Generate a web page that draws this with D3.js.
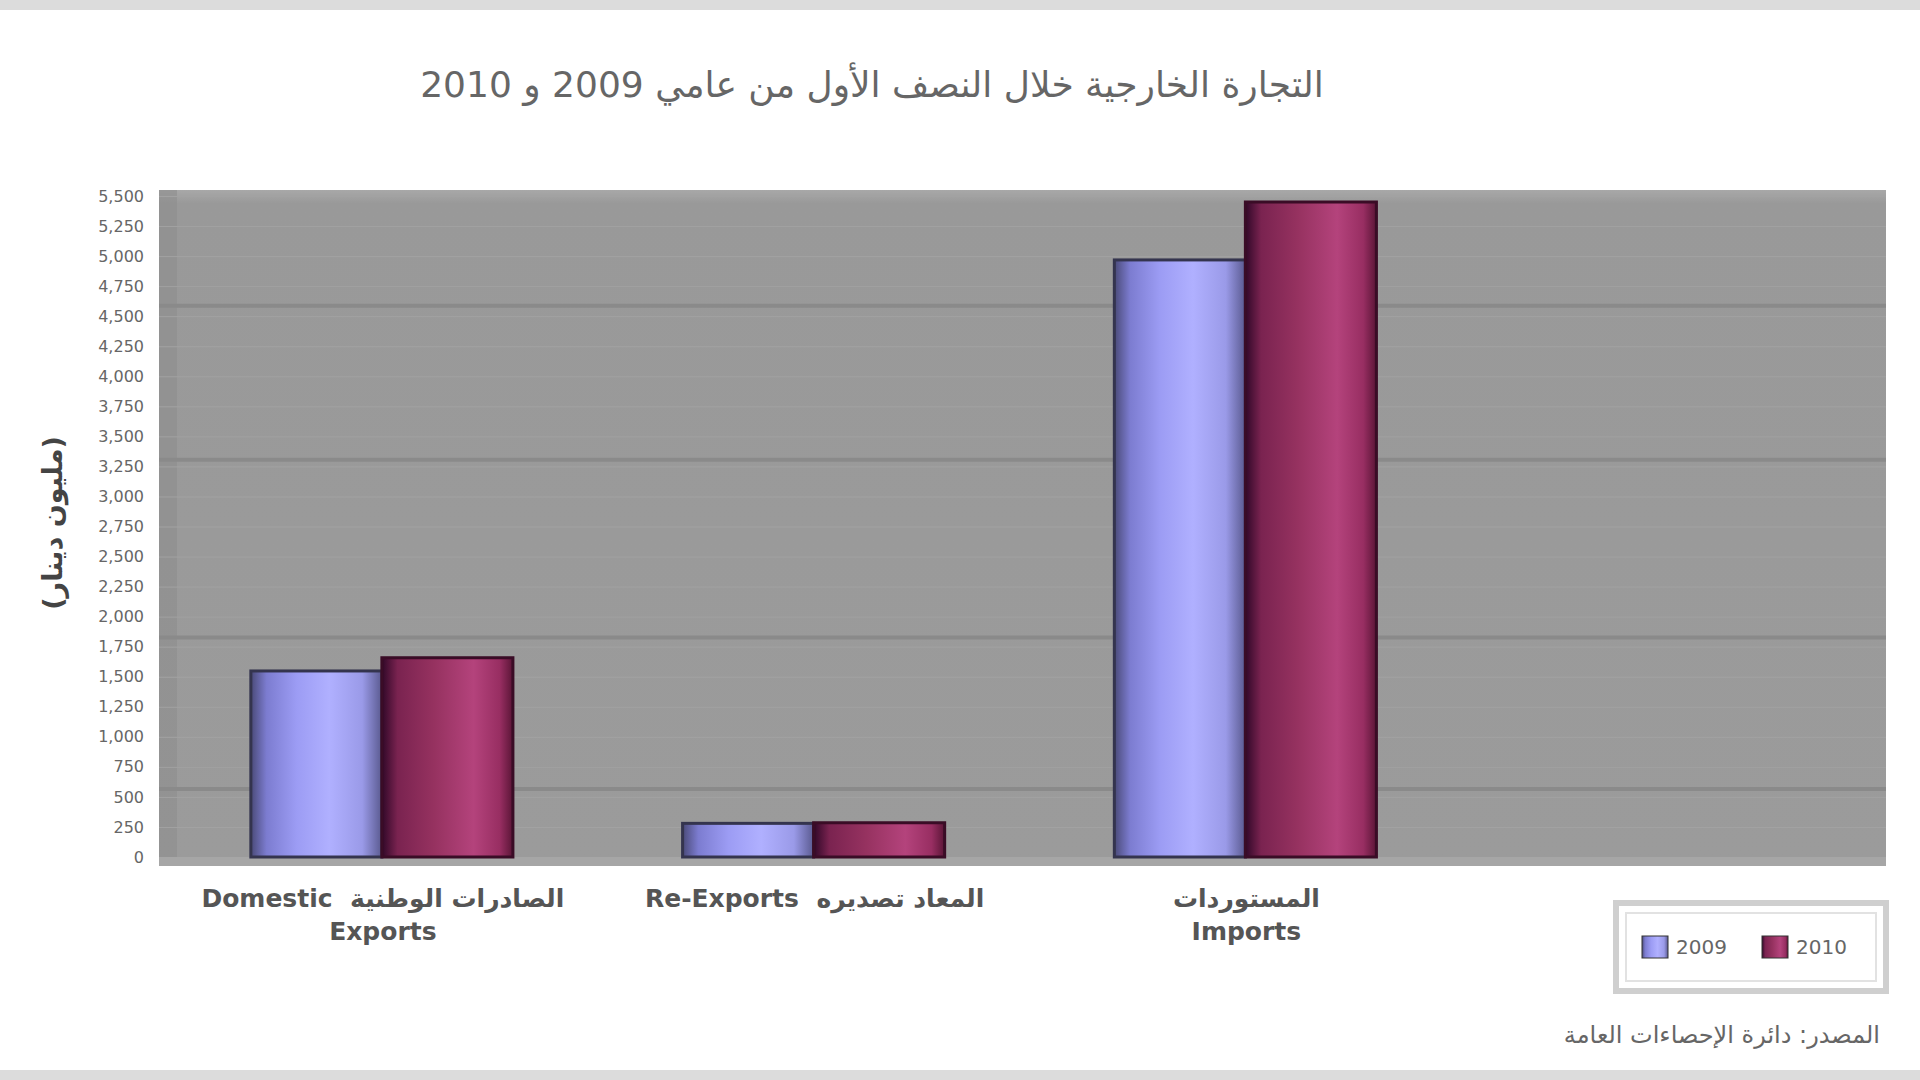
<!DOCTYPE html>
<html lang="ar">
<head>
<meta charset="utf-8">
<script src="https://cdn.jsdelivr.net/npm/d3@7/dist/d3.min.js"></script>
<style>
  html, body { margin: 0; padding: 0; background: #ffffff; }
  svg { display: block; font-family: "DejaVu Sans", "Noto Sans", sans-serif; }
</style>
</head>
<body>
<svg id="chart" width="1920" height="1080"></svg>
<script>
// ---------- data ----------
const categories = ["Domestic Exports", "Re-Exports", "Imports"];
const categoryLabelLines = [
  ["Domestic  الصادرات الوطنية", "Exports"],
  ["Re-Exports  المعاد تصديره"],
  ["المستوردات", "Imports"]
];
const seriesNames = ["2009", "2010"];
const values2009 = [1548, 280, 4968];
const values2010 = [1658, 285, 5450];
const yTicks = [0, 250, 500, 750, 1000, 1250, 1500, 1750, 2000, 2250, 2500, 2750,
                3000, 3250, 3500, 3750, 4000, 4250, 4500, 4750, 5000, 5250, 5500];
const majorGrid = [570, 1830, 3310, 4590];
const titleText = "التجارة الخارجية خلال النصف الأول من عامي 2009 و 2010";
const yAxisTitle = "(مليون دينار)";
const sourceText = "المصدر: دائرة الإحصاءات العامة";

// ---------- layout ----------
const svg = d3.select("#chart");
const W = 1920, H = 1080;
const plot = { left: 159, right: 1886, top: 190, bottom: 866 };
const baseY = 857;

// bands
svg.append("rect").attr("x", 0).attr("y", 0).attr("width", W).attr("height", 10).attr("fill", "#dcdcdc");
svg.append("rect").attr("x", 0).attr("y", H - 10).attr("width", W).attr("height", 10).attr("fill", "#dcdcdc");

// title
svg.append("text")
  .attr("x", 872).attr("y", 97)
  .attr("text-anchor", "middle")
  .attr("direction", "rtl")
  .attr("font-size", 36)
  .attr("fill", "#666")
  .text(titleText);

// gradients
const defs = svg.append("defs");
const g09 = defs.append("linearGradient").attr("id", "g2009").attr("x1", "0").attr("x2", "1").attr("y1", "0").attr("y2", "0");
[[0, "#4a4a78"], [0.12, "#7c7cd0"], [0.35, "#9c9cf4"], [0.6, "#b0b0ff"], [0.85, "#9a9ae8"], [1, "#5a5a90"]]
  .forEach(([o, c]) => g09.append("stop").attr("offset", o).attr("stop-color", c));
const g10 = defs.append("linearGradient").attr("id", "g2010").attr("x1", "0").attr("x2", "1").attr("y1", "0").attr("y2", "0");
[[0, "#300828"], [0.12, "#7a2350"], [0.4, "#963260"], [0.7, "#b4437c"], [0.9, "#982e62"], [1, "#5a1536"]]
  .forEach(([o, c]) => g10.append("stop").attr("offset", o).attr("stop-color", c));
const wallG = defs.append("linearGradient").attr("id", "wall").attr("x1", "0").attr("x2", "0").attr("y1", "0").attr("y2", "1");
[[0, "#a8a8a8"], [0.02, "#999999"], [1, "#9b9b9b"]]
  .forEach(([o, c]) => wallG.append("stop").attr("offset", o).attr("stop-color", c));

// plot background
svg.append("rect")
  .attr("x", plot.left).attr("y", plot.top)
  .attr("width", plot.right - plot.left).attr("height", plot.bottom - plot.top)
  .attr("fill", "url(#wall)");
svg.append("rect")
  .attr("x", plot.left).attr("y", plot.top)
  .attr("width", 18).attr("height", plot.bottom - plot.top)
  .attr("fill", "#8e8e8e").attr("opacity", 0.6);
svg.append("rect")
  .attr("x", plot.left).attr("y", baseY)
  .attr("width", plot.right - plot.left).attr("height", plot.bottom - baseY)
  .attr("fill", "#a6a6a6");

// scales
const y = d3.scaleLinear().domain([0, 5500]).range([baseY, 196]);
const x = d3.scaleBand()
  .domain(categories.concat(["_empty"]))
  .range([166, 1893])
  .paddingInner(0.393).paddingOuter(0.1965);
const xs = d3.scaleBand().domain(seriesNames).range([0, x.bandwidth()]).padding(0);

// minor gridlines
svg.append("g")
  .attr("transform", `translate(${plot.left},0)`)
  .call(d3.axisLeft(y).tickValues(yTicks.slice(1)).tickSize(-(plot.right - plot.left)).tickFormat(""))
  .call(g => g.select(".domain").remove())
  .call(g => g.selectAll("line").attr("stroke", "#a2a2a2").attr("stroke-width", 1));
// major gridlines
svg.append("g")
  .attr("transform", `translate(${plot.left},0)`)
  .call(d3.axisLeft(y).tickValues(majorGrid).tickSize(-(plot.right - plot.left)).tickFormat(""))
  .call(g => g.select(".domain").remove())
  .call(g => g.selectAll("line").attr("stroke", "#8a8a8a").attr("stroke-width", 4));

// y axis labels
svg.append("g")
  .attr("transform", `translate(146,0)`)
  .call(d3.axisLeft(y).tickValues(yTicks).tickSize(0).tickPadding(2).tickFormat(d3.format(",")))
  .call(g => g.select(".domain").remove())
  .call(g => g.selectAll("text").attr("font-size", 16).attr("fill", "#666").attr("font-family", "DejaVu Sans, sans-serif"));

// y axis title
svg.append("text")
  .attr("transform", "translate(53,523) rotate(-90)")
  .attr("dy", "0.35em")
  .attr("text-anchor", "middle")
  .attr("direction", "rtl")
  .attr("font-size", 27)
  .attr("font-weight", "bold")
  .attr("fill", "#444")
  .text(yAxisTitle);

// bars
const seriesValues = { "2009": values2009, "2010": values2010 };
const grads = { "2009": "url(#g2009)", "2010": "url(#g2010)" };
const strokes = { "2009": "#34344e", "2010": "#3a0c26" };
const barData = [];
categories.forEach((c, i) => seriesNames.forEach(s => barData.push({ c, s, v: seriesValues[s][i] })));

svg.append("g").selectAll("rect")
  .data(barData)
  .join("rect")
  .attr("x", d => x(d.c) + xs(d.s))
  .attr("y", d => y(d.v))
  .attr("width", xs.bandwidth())
  .attr("height", d => baseY - y(d.v))
  .attr("fill", d => grads[d.s])
  .attr("stroke", d => strokes[d.s])
  .attr("stroke-width", 3);

// x labels
const xl = svg.append("g");
categories.forEach((c, i) => {
  const cx = x(c) + x.bandwidth() / 2 + 1;
  categoryLabelLines[i].forEach((line, j) => {
    xl.append("text")
      .attr("x", cx).attr("y", 907 + j * 33)
      .attr("text-anchor", "middle")
      .attr("font-size", 25)
      .attr("font-weight", "bold")
      .attr("fill", "#555")
      .attr("xml:space", "preserve")
      .style("white-space", "pre")
      .text(line);
  });
});

// legend
const lg = svg.append("g");
lg.append("rect").attr("x", 1616).attr("y", 903).attr("width", 270).attr("height", 88)
  .attr("fill", "#ffffff").attr("stroke", "#cfcfcf").attr("stroke-width", 6);
lg.append("rect").attr("x", 1626).attr("y", 913).attr("width", 250).attr("height", 68)
  .attr("fill", "none").attr("stroke", "#e2e2e2").attr("stroke-width", 2);
const legX = d3.scalePoint().domain(seriesNames).range([1642, 1762]);
seriesNames.forEach(s => {
  lg.append("rect").attr("x", legX(s)).attr("y", 936).attr("width", 26).attr("height", 22)
    .attr("fill", grads[s]).attr("stroke", "#333").attr("stroke-width", 1);
  lg.append("text").attr("x", legX(s) + 34).attr("y", 954)
    .attr("font-size", 20).attr("fill", "#666").text(s);
});

// source
svg.append("text")
  .attr("x", 1880).attr("y", 1043)
  .attr("text-anchor", "start")
  .attr("direction", "rtl")
  .attr("font-size", 24)
  .attr("fill", "#666")
  .text(sourceText);
</script>
</body>
</html>
